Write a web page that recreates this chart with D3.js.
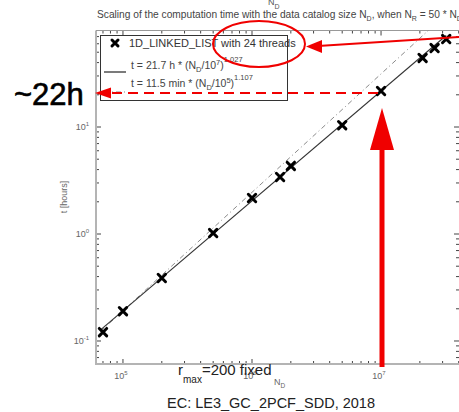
<!DOCTYPE html>
<html>
<head>
<meta charset="utf-8">
<script src="https://cdn.jsdelivr.net/npm/d3@7"></script>
<style>
  body { margin: 0; background: #fff; }
  svg { display: block; font-family: "Liberation Sans", Arial, sans-serif; }
</style>
</head>
<body>
<div id="chart"></div>
<script>
// Measured run times (hours) vs data catalog size N_D
var catalogSizes = [7.0e4, 1.0e5, 2.0e5, 5.0e5, 1.0e6, 1.65e6, 2.0e6, 5.0e6, 1.0e7, 2.1e7, 2.6e7, 3.2e7];
var runHours = [0.121, 0.190, 0.388, 1.02, 2.17, 3.41, 4.33, 10.4, 21.7, 44.2, 54.7, 66.4];

// Fit lines (straight in log-log), end points [N, hours]
var fitSolid = [[6.7e4, 0.127], [3.2e7, 71.7]];
var fitDashed = [[6.7e4, 0.123], [2.4e7, 82.7]];

// Axis decades
var xDecades = [5, 6, 7];
var yDecades = [-1, 0, 1];

var svgWidth = 459, svgHeight = 412;
var plot = { left: 96, right: 460, top: 30.5, bottom: 364 };

var svg = d3.select("#chart").append("svg")
    .attr("width", svgWidth)
    .attr("height", svgHeight);

var x = d3.scaleLog()
    .domain([Math.pow(10, 4.791), Math.pow(10, 7.612)])
    .range([plot.left, plot.right]);

var y = d3.scaleLog()
    .domain([Math.pow(10, -1.215), Math.pow(10, 1.902)])
    .range([plot.bottom, plot.top]);

svg.append("defs").append("clipPath").attr("id", "clip")
  .append("rect")
    .attr("x", plot.left).attr("y", plot.top)
    .attr("width", plot.right - plot.left)
    .attr("height", plot.bottom - plot.top);

// Title
var title = svg.append("text")
    .attr("x", 97).attr("y", 18)
    .attr("font-size", 10.2)
    .attr("fill", "#444");
title.append("tspan").text("Scaling of the computation time with the data catalog size N");
title.append("tspan").attr("dy", 3).attr("font-size", 7).text("D");
title.append("tspan").attr("dy", -3).text(", when N");
title.append("tspan").attr("dy", 3).attr("font-size", 7).text("R");
title.append("tspan").attr("dy", -3).text(" = 50 * N");
title.append("tspan").attr("dy", 3).attr("font-size", 7).text("D");

// top axis label (cut off)
var topLab = svg.append("text").attr("x", 268).attr("y", 5)
    .attr("font-size", 9).attr("fill", "#555");
topLab.append("tspan").text("N");
topLab.append("tspan").attr("dy", 4).attr("font-size", 7).text("D");

// Log ticks
var xTicks = [], yTicks = [];
for (var d = 4; d <= 7; d++) {
    for (var m = 1; m <= 9; m++) {
        var v = m * Math.pow(10, d);
        if (v >= x.domain()[0] && v <= x.domain()[1]) xTicks.push({ v: v, major: m === 1 });
    }
}
for (var d = -2; d <= 1; d++) {
    for (var m = 1; m <= 9; m++) {
        var v = m * Math.pow(10, d);
        if (v >= y.domain()[0] && v <= y.domain()[1]) yTicks.push({ v: v, major: m === 1 });
    }
}

var tickGroup = svg.append("g").attr("stroke", "#444").attr("stroke-width", 1);
xTicks.forEach(function(t) {
    var len = t.major ? 5 : 3;
    tickGroup.append("line").attr("x1", x(t.v)).attr("x2", x(t.v))
        .attr("y1", plot.bottom).attr("y2", plot.bottom - len);
    tickGroup.append("line").attr("x1", x(t.v)).attr("x2", x(t.v))
        .attr("y1", plot.top).attr("y2", plot.top + len);
});
yTicks.forEach(function(t) {
    var len = t.major ? 5 : 3;
    tickGroup.append("line").attr("x1", plot.left).attr("x2", plot.left + len)
        .attr("y1", y(t.v)).attr("y2", y(t.v));
    tickGroup.append("line").attr("x1", plot.right - 1).attr("x2", plot.right - 1 - len)
        .attr("y1", y(t.v)).attr("y2", y(t.v));
});

// Frame
svg.append("line").attr("x1", plot.left).attr("x2", plot.left)
    .attr("y1", plot.top).attr("y2", plot.bottom + 1)
    .attr("stroke", "#b4b4b4").attr("stroke-width", 2);
svg.append("line").attr("x1", plot.left - 1).attr("x2", plot.right)
    .attr("y1", plot.bottom).attr("y2", plot.bottom)
    .attr("stroke", "#b4b4b4").attr("stroke-width", 2);
svg.append("line").attr("x1", plot.left).attr("x2", plot.right)
    .attr("y1", plot.top).attr("y2", plot.top)
    .attr("stroke", "#999").attr("stroke-width", 1);

// Tick labels
xDecades.forEach(function(e) {
    var t = svg.append("text").attr("x", x(Math.pow(10, e)) - 2).attr("y", 379)
        .attr("font-size", 9).attr("fill", "#666").attr("text-anchor", "middle");
    t.append("tspan").text("10");
    t.append("tspan").attr("dy", -4).attr("font-size", 6).text(e);
});
yDecades.forEach(function(e) {
    var t = svg.append("text").attr("x", 89).attr("y", y(Math.pow(10, e)) + 3)
        .attr("font-size", 9).attr("fill", "#666").attr("text-anchor", "end");
    t.append("tspan").text("10");
    t.append("tspan").attr("dy", -4).attr("font-size", 6).text(e);
});

// Axis labels
svg.append("text")
    .attr("transform", "translate(67," + 197 + ") rotate(-90)")
    .attr("text-anchor", "middle").attr("font-size", 9).attr("fill", "#666")
    .text("t [hours]");
var xLab = svg.append("text").attr("x", 274).attr("y", 385)
    .attr("font-size", 9).attr("fill", "#666");
xLab.append("tspan").text("N");
xLab.append("tspan").attr("dy", 3).attr("font-size", 6.5).text("D");

// Fit lines
var line = d3.line().x(function(d) { return x(d[0]); }).y(function(d) { return y(d[1]); });
var lines = svg.append("g").attr("clip-path", "url(#clip)");
lines.append("path").datum(fitDashed)
    .attr("d", line).attr("fill", "none")
    .attr("stroke", "#8a8a8a").attr("stroke-width", 1)
    .attr("stroke-dasharray", "5,3,1,3");
lines.append("path").datum(fitSolid)
    .attr("d", line).attr("fill", "none")
    .attr("stroke", "#333").attr("stroke-width", 1.1);

// Markers
function cross(g, cx, cy, s) {
    g.append("path")
        .attr("d", "M" + (cx - s) + "," + (cy - s) + "L" + (cx + s) + "," + (cy + s) +
                   "M" + (cx - s) + "," + (cy + s) + "L" + (cx + s) + "," + (cy - s))
        .attr("stroke", "#000").attr("stroke-width", 3).attr("stroke-linecap", "round");
}
var marks = svg.append("g");
catalogSizes.forEach(function(n, i) {
    cross(marks, x(n), y(runHours[i]), 3.7);
});

// Legend
var legend = svg.append("g");
legend.append("rect").attr("x", 100.5).attr("y", 35.5).attr("width", 187).attr("height", 65)
    .attr("fill", "#fff").attr("stroke", "#333").attr("stroke-width", 1);
cross(legend, 115, 43, 3);
legend.append("text").attr("x", 129).attr("y", 47).attr("font-size", 11).attr("fill", "#333")
    .text("1D_LINKED_LIST with 24 threads");
legend.append("line").attr("x1", 104).attr("x2", 126).attr("y1", 72).attr("y2", 72)
    .attr("stroke", "#222").attr("stroke-width", 1.2);
var l2 = legend.append("text").attr("x", 131).attr("y", 69).attr("font-size", 10.5).attr("fill", "#444");
l2.append("tspan").text("t = 21.7 h * (N");
l2.append("tspan").attr("dy", 3).attr("font-size", 7.5).text("D");
l2.append("tspan").attr("dy", -3).text("/10");
l2.append("tspan").attr("dy", -4).attr("font-size", 7.5).text("7");
l2.append("tspan").attr("dy", 4).text(")");
l2.append("tspan").attr("dy", -7).attr("font-size", 7.5).text("1.027");
legend.append("line").attr("x1", 104).attr("x2", 126).attr("y1", 92).attr("y2", 92)
    .attr("stroke", "#8a8a8a").attr("stroke-width", 1).attr("stroke-dasharray", "5,3,1,3");
var l3 = legend.append("text").attr("x", 131).attr("y", 87).attr("font-size", 10.5).attr("fill", "#444");
l3.append("tspan").text("t = 11.5 min * (N");
l3.append("tspan").attr("dy", 3).attr("font-size", 7.5).text("D");
l3.append("tspan").attr("dy", -3).text("/10");
l3.append("tspan").attr("dy", -4).attr("font-size", 7.5).text("5");
l3.append("tspan").attr("dy", 4).text(")");
l3.append("tspan").attr("dy", -7).attr("font-size", 7.5).text("1.107");

// Annotations
var red = "#f00000";
var ann = svg.append("g");
ann.append("ellipse").attr("cx", 259).attr("cy", 44).attr("rx", 46).attr("ry", 23)
    .attr("fill", "none").attr("stroke", red).attr("stroke-width", 2);
ann.append("line").attr("x1", 459).attr("x2", 318).attr("y1", 37).attr("y2", 46)
    .attr("stroke", red).attr("stroke-width", 2);
ann.append("path").attr("d", "M306,46.5 L322,40 L322,53 Z").attr("fill", red);

ann.append("line").attr("x1", 378).attr("x2", 110).attr("y1", 93).attr("y2", 93)
    .attr("stroke", red).attr("stroke-width", 2.2).attr("stroke-dasharray", "10,6");
ann.append("path").attr("d", "M95,93 L111,87.5 L111,98.5 Z").attr("fill", red);

ann.append("line").attr("x1", 382).attr("x2", 382).attr("y1", 367).attr("y2", 145)
    .attr("stroke", red).attr("stroke-width", 5);
ann.append("path").attr("d", "M382,108 L394,150 L370,150 Z").attr("fill", red);

svg.append("text").attr("x", 14).attr("y", 105).attr("font-size", 31)
    .attr("fill", "#000").attr("stroke", "#000").attr("stroke-width", 0.6)
    .text("~22h");

var rmax = svg.append("text").attr("x", 178).attr("y", 375).attr("font-size", 15).attr("fill", "#222");
rmax.append("tspan").text("r");
rmax.append("tspan").attr("dy", 8).attr("font-size", 10).text("max");
rmax.append("tspan").attr("dy", -8).text("=200 fixed");

svg.append("text").attr("x", 271).attr("y", 408).attr("font-size", 14.5)
    .attr("text-anchor", "middle").attr("fill", "#222")
    .text("EC: LE3_GC_2PCF_SDD, 2018");
</script>
</body>
</html>
